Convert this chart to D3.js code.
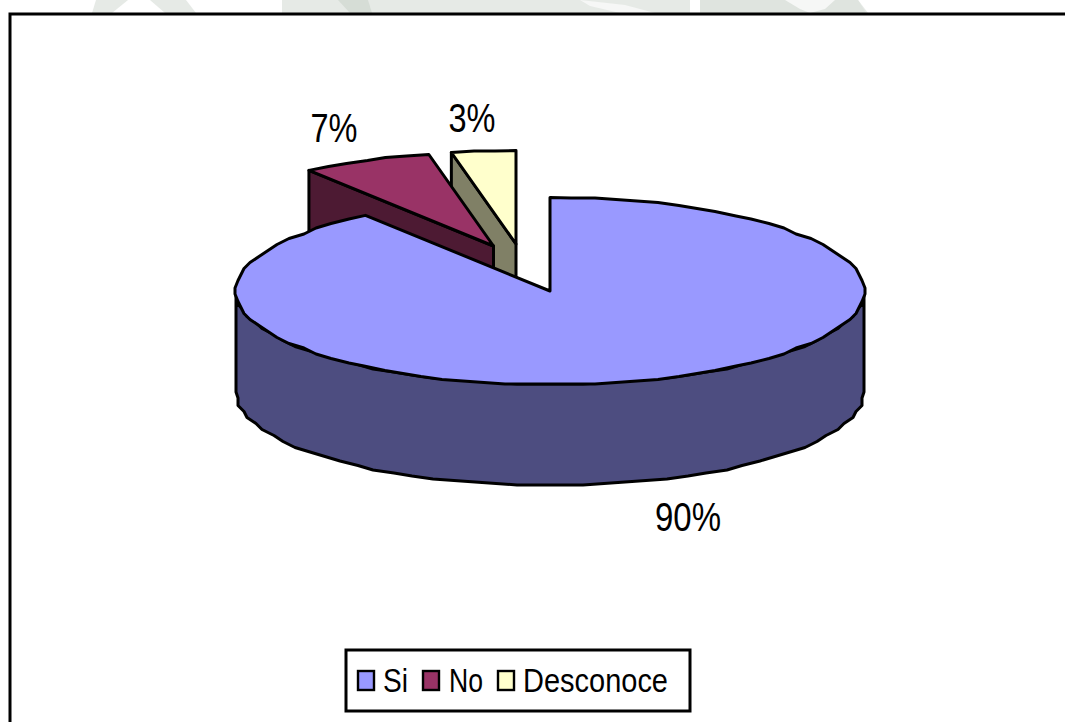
<!DOCTYPE html>
<html>
<head>
<meta charset="utf-8">
<script src="https://cdn.jsdelivr.net/npm/d3@7"></script>
<style>html,body{margin:0;padding:0;background:#fff;overflow:hidden}svg{display:block}text{font-family:"Liberation Sans",Arial,sans-serif;fill:#000}</style>
</head>
<body>
<svg id="c" width="1065" height="722"></svg>
<script>
const categories = ["Si", "No", "Desconoce"];
const values = [90, 6.7, 3.3];
const valueLabels = ["90%", "7%", "3%"];
const topColors = ["#9999ff", "#993366", "#ffffcc"];
const wallColors = ["#4d4d80", "#4d1a33", "#808066"];

const svg = d3.select("#c");
const W = 1065, H = 722;

// faded watermark visible above the chart frame
const wm = svg.append("g").attr("fill", "#e6eae6");
[[[96,0],[128,0],[112,13],[92,13]], [[150,0],[186,0],[196,13],[165,13]],
 [[282,0],[690,0],[690,13],[282,13]], [[700,0],[785,0],[790,13],[700,13]],
 [[832,0],[858,0],[868,13],[812,13]]]
  .forEach(p => wm.append("polygon").attr("points", p.join(" ")));
wm.append("polygon").attr("points", "338,0 368,0 372,13 350,13").attr("fill","#d6ddd6");
wm.append("polygon").attr("points", "700,0 858,0 866,13 700,13").attr("fill","#dfe4df");
wm.append("polygon").attr("points", "785,0 835,0 825,9 810,13 800,9").attr("fill","#f6f7f6");
wm.append("polygon").attr("points", "580,0 625,5 655,13 620,13 590,6").attr("fill","#f6f7f6");

// frame (runs off the right and bottom of the picture)
svg.append("rect").attr("x", 10).attr("y", 14).attr("width", W + 20).attr("height", H + 20)
  .attr("fill", "#fff").attr("stroke", "#000").attr("stroke-width", 3);

const cx = 550, cy = 291, rx = 314, ry = 93.5, depth = 101;
const offsets = [[0, 0], [-56.5, -45], [-34, -47]];
const pie = d3.pie().sort(null).value(d => d).startAngle(0).endAngle(2 * Math.PI);
const arcs = pie(values);
const xS = d3.scaleLinear().domain([-1, 1]).range([-rx, rx]);
const yS = d3.scaleLinear().domain([-1, 1]).range([-ry, ry]);
const line = d3.line();
const STEP = Math.PI / 45;

function rim(a0, a1) {
  const n = Math.max(1, Math.round((a1 - a0) / STEP)), out = [];
  for (let i = 0; i <= n; i++) {
    const a = a0 + (a1 - a0) * i / n;
    const interior = i > 0 && i < n;
    const x = xS(Math.sin(a)), y = yS(-Math.cos(a));
    out.push(interior ? [Math.round(x / 3) * 3, Math.round(y / 1.5) * 1.5] : [x, y]);
  }
  return out;
}
const shift = (pts, dx, dy) => pts.map(p => [p[0] + dx, p[1] + dy]);
const closed = pts => line(pts) + "Z";
const g = svg.append("g").attr("stroke", "#000").attr("stroke-width", 3).attr("stroke-linejoin", "round");

// drawn back to front: Desconoce, No, then Si over them
[2, 1, 0].forEach(i => {
  const d = arcs[i], [ox, oy] = offsets[i];
  const slice = g.append("g").attr("transform", `translate(${cx + ox},${cy + oy})`);
  const pts = rim(d.startAngle, d.endAngle);
  if (i === 0) {
    // front rim wall: from the right extreme to the left extreme through the bottom
    const front = rim(Math.PI / 2, 3 * Math.PI / 2);
    slice.append("path").attr("fill", wallColors[i])
      .attr("d", closed(front.concat(shift(front, 0, depth).reverse())));
  } else {
    // exposed cut face on the left of the exploded slice
    const first = pts[0];
    slice.append("path").attr("fill", wallColors[i])
      .attr("d", closed([first, [0, 0], [0, depth], [first[0], first[1] + depth]]));
  }
  slice.append("path").attr("fill", topColors[i]).attr("d", closed([[0, 0]].concat(pts)));
});

// labels
const labelPos = [[688, 517], [334, 128], [472, 118]];
const labelWidth = [66, 47, 47];
svg.append("g").selectAll("text").data(valueLabels).join("text")
  .attr("x", (d, i) => labelPos[i][0] - labelWidth[i] / 2).attr("y", (d, i) => labelPos[i][1])
  .attr("dy", "0.35em").attr("font-size", 41)
  .attr("textLength", (d, i) => labelWidth[i]).attr("lengthAdjust", "spacingAndGlyphs")
  .text(d => d);

// legend
const lg = svg.append("g");
lg.append("rect").attr("x", 346).attr("y", 650).attr("width", 344).attr("height", 61)
  .attr("fill", "#fff").attr("stroke", "#000").attr("stroke-width", 3);
const swX = [358, 423, 498], txX = [383, 449, 523], txW = [25, 34, 145];
categories.forEach((c, i) => {
  lg.append("rect").attr("x", swX[i]).attr("y", 671).attr("width", 16).attr("height", 19)
    .attr("fill", topColors[i]).attr("stroke", "#000").attr("stroke-width", 2.4);
  lg.append("text").attr("x", txX[i]).attr("y", 680).attr("dy", "0.36em")
    .attr("font-size", 33).attr("textLength", txW[i]).attr("lengthAdjust", "spacingAndGlyphs").text(c);
});
</script>
</body>
</html>
